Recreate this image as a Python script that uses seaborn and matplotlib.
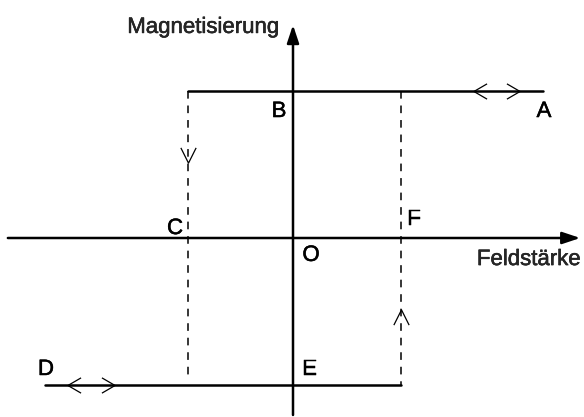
import matplotlib
matplotlib.use("Agg")
import matplotlib.pyplot as plt
from matplotlib.path import Path
import matplotlib.patheffects as pe
import seaborn as sns
import pandas as pd

# ---- data (field strength H, magnetisation M) ----
top_H = [-0.99, 2.36]          # C-side corner to A
top_M = [1.0, 1.0]
bot_H = [-2.34, 1.02]          # D to F-side corner
bot_M = [-1.0, -1.0]
left_dash_H = [-0.99, -0.99]
left_dash_M = [1.0, -0.95]
right_dash_H = [1.02, 1.02]
right_dash_M = [1.0, -1.0]

# direction chevrons
chev_left_H = [1.76, -2.07]
chev_left_M = [1.0, -1.0]
chev_right_H = [2.08, -1.75]
chev_right_M = [1.0, -1.0]
chev_down_H = [-0.99]
chev_down_M = [0.565]
chev_up_H = [1.02]
chev_up_M = [-0.537]

# point labels
label_text = ["A", "B", "C", "D", "E", "F", "O"]
label_H = [2.368, -0.132, -1.113, -2.33, 0.16, 1.142, 0.17]
label_M = [0.823, 0.823, 0.027, -0.932, -0.932, 0.088, -0.156]

x_axis_label = "Feldstärke"
y_axis_label = "Magnetisierung"

sns.set_style("white")
plt.rcParams["font.family"] = ["Liberation Sans", "DejaVu Sans"]

fig = plt.figure(figsize=(5.84, 4.17), dpi=100)
ax = fig.add_axes([0, 0, 1, 1])
ax.set_xlim((0 - 293) / 106, (584 - 293) / 106)
ax.set_ylim(-(417 - 238) / 147, 238 / 147)
ax.axis("off")

# coordinate axes with arrows
for xy, xyt in [((2.71, 0), (-2.69, 0)), ((0, 1.449), (0, -1.204))]:
    ax.annotate("", xy=xy, xytext=xyt,
                arrowprops=dict(arrowstyle="-|>,head_length=0.9,head_width=0.3",
                                lw=1.8, color="black", mutation_scale=12,
                                shrinkA=0, shrinkB=0))

# solid branches
top_df = pd.DataFrame({"H": top_H, "M": top_M})
bot_df = pd.DataFrame({"H": bot_H, "M": bot_M})
sns.lineplot(data=top_df, x="H", y="M", ax=ax, color="black", lw=1.8,
             sort=False, estimator=None)
sns.lineplot(data=bot_df, x="H", y="M", ax=ax, color="black", lw=1.8,
             sort=False, estimator=None)

# dashed branches
ld = pd.DataFrame({"H": left_dash_H, "M": left_dash_M})
rd = pd.DataFrame({"H": right_dash_H, "M": right_dash_M})
sns.lineplot(data=ld, x="H", y="M", ax=ax, color="black", lw=1.1,
             sort=False, estimator=None, linestyle=(0, (5, 4.5)))
sns.lineplot(data=rd, x="H", y="M", ax=ax, color="black", lw=1.1,
             sort=False, estimator=None, linestyle=(0, (5, 4.5)))

# chevron markers
lt = Path([(0.43, 0.5), (-0.43, 0.0), (0.43, -0.5)], [1, 2, 2])
gt = Path([(-0.43, 0.5), (0.43, 0.0), (-0.43, -0.5)], [1, 2, 2])
dn = Path([(-0.5, 0.5), (0.0, -0.5), (0.5, 0.5)], [1, 2, 2])
up = Path([(-0.5, -0.5), (0.0, 0.5), (0.5, -0.5)], [1, 2, 2])
for hs, ms, mk in [(chev_left_H, chev_left_M, lt), (chev_right_H, chev_right_M, gt),
                   (chev_down_H, chev_down_M, dn), (chev_up_H, chev_up_M, up)]:
    ax.plot(hs, ms, linestyle="", marker=mk, markersize=11,
            markerfacecolor="none", markeredgecolor="black", markeredgewidth=0.9)

# labels
stroke = [pe.withStroke(linewidth=0.35, foreground="black")]
for t, h, m in zip(label_text, label_H, label_M):
    ax.text(h, m, t, fontsize=16, ha="center", va="baseline", color="black",
            path_effects=stroke)
ax.text(-0.844, 1.395, y_axis_label, fontsize=16, ha="center", va="baseline",
        path_effects=stroke)
ax.text(2.226, -0.184, x_axis_label, fontsize=16, ha="center", va="baseline",
        path_effects=stroke)

fig.savefig("out.png", dpi=100)
